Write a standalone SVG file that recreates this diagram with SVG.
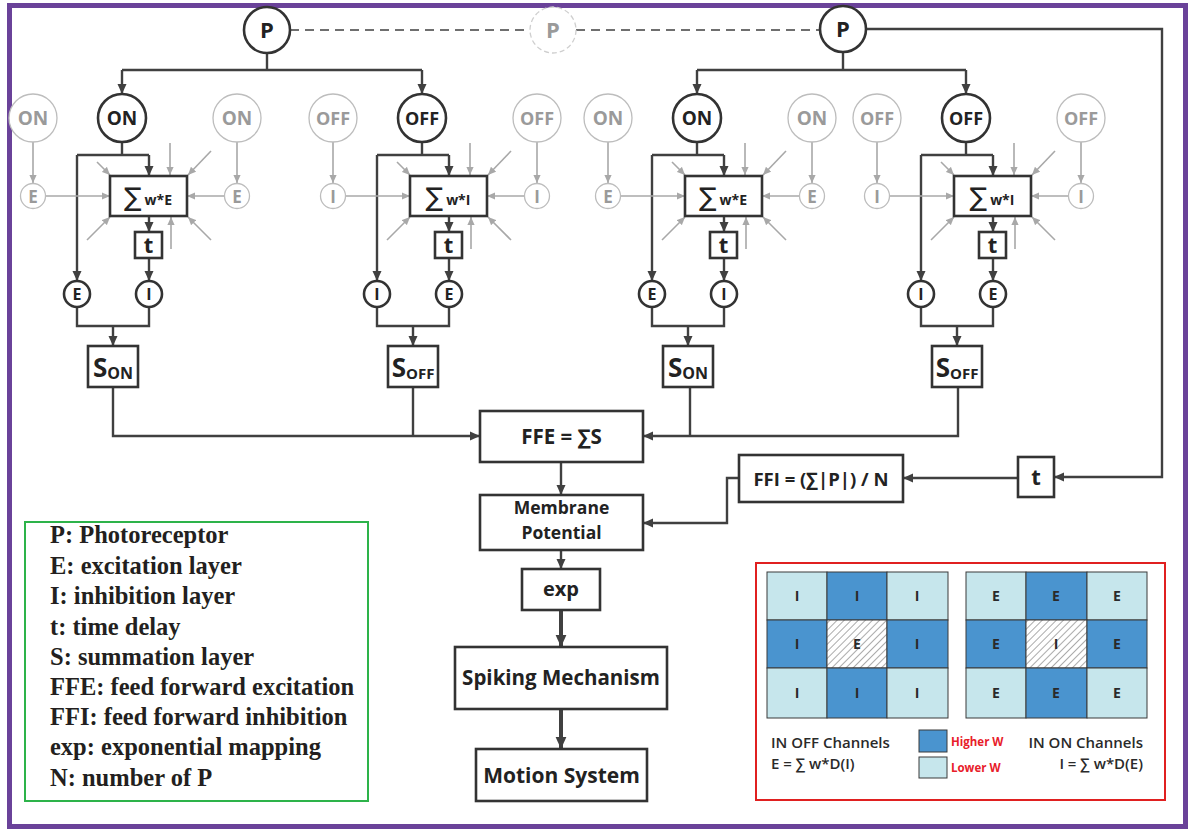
<svg xmlns="http://www.w3.org/2000/svg" width="1190" height="832" viewBox="0 0 1190 832">
<defs>
<style>
.bk{fill:#fff;stroke:#333;stroke-width:2.6}
.gc{fill:#fff;stroke:#bdbdbd;stroke-width:1.3}
.ln{fill:none;stroke:#404040;stroke-width:2.4}
.gl{fill:none;stroke:#a8a8a8;stroke-width:1.6}
.t{font-family:"Open Sans","Noto Sans",sans-serif;font-weight:700;fill:#222;text-anchor:middle}
.tg{font-family:"Open Sans","Noto Sans",sans-serif;font-weight:700;fill:#9a9a9a;text-anchor:middle}
.sig{font-family:"DejaVu Sans",sans-serif;font-weight:400}
.lg{font-family:"Liberation Serif","Times New Roman",serif;font-weight:700;fill:#231f20;font-size:24.5px}
.gt{font-family:"Open Sans","Noto Sans",sans-serif;font-weight:700;fill:#2a2a2a;text-anchor:middle;font-size:14px}
.rb{font-family:"Open Sans","Noto Sans",sans-serif;font-weight:600;font-size:15px;fill:#2a2a2a}
.rw{font-family:"Open Sans","Noto Sans",sans-serif;font-weight:700;font-size:11.5px;fill:#e8202a}
.dk{fill:#4a94cf;stroke:#3a3a3a;stroke-width:1}
.lt{fill:#c6e6ec;stroke:#3a3a3a;stroke-width:1}
</style>
<marker id="ah" viewBox="0 0 10 10" refX="10" refY="5" markerWidth="10" markerHeight="10" markerUnits="userSpaceOnUse" orient="auto"><path d="M0,0.5 L10,5 L0,9.5 z" fill="#404040"/></marker>
<marker id="ahb" viewBox="0 0 10 10" refX="10" refY="5" markerWidth="12" markerHeight="12" markerUnits="userSpaceOnUse" orient="auto"><path d="M0,0.5 L10,5 L0,9.5 z" fill="#404040"/></marker>
<marker id="ag" viewBox="0 0 10 10" refX="10" refY="5" markerWidth="8" markerHeight="8" markerUnits="userSpaceOnUse" orient="auto"><path d="M0,0.5 L10,5 L0,9.5 z" fill="#a8a8a8"/></marker>
<pattern id="hatch" patternUnits="userSpaceOnUse" width="5" height="5" patternTransform="rotate(45)"><rect width="5" height="5" fill="#fff"/><line x1="0" y1="0" x2="0" y2="5" stroke="#444" stroke-width="0.9"/></pattern>
</defs>
<rect x="0" y="0" width="1190" height="832" fill="#fff"/>
<rect x="9.5" y="5.5" width="1176" height="821" fill="none" stroke="#6a4299" stroke-width="5"/>

<g id="connectors">
<path class="ln" d="M267,53 V70 M122,70 H422"/>
<path class="ln" d="M122,70 V94" marker-end="url(#ah)"/>
<path class="ln" d="M422,70 V94" marker-end="url(#ah)"/>
<path class="ln" d="M843,52 V70 M697,70 H966"/>
<path class="ln" d="M697,70 V94" marker-end="url(#ah)"/>
<path class="ln" d="M966,70 V94" marker-end="url(#ah)"/>
<path fill="none" stroke="#404040" stroke-width="1.6" stroke-dasharray="9,6" d="M290,30 H530 M576,30 H820"/>
<path class="ln" d="M866,29 H1162 V477 H1054" marker-end="url(#ah)"/>
<path class="ln" d="M1018,478 H903" marker-end="url(#ah)"/>
<path class="ln" d="M739,478 H727 V523 H643" marker-end="url(#ah)"/>
<path class="ln" d="M113,387 V436 H480" marker-end="url(#ah)"/>
<path class="ln" d="M413,387 V436"/>
<path class="ln" d="M958,387 V436 H643" marker-end="url(#ah)"/>
<path class="ln" d="M690,387 V436"/>
<path class="ln" d="M561,462 V495" marker-end="url(#ah)"/>
<path class="ln" d="M561,550 V569" marker-end="url(#ah)"/>
<path fill="none" stroke="#404040" stroke-width="4" d="M561,610 V647" marker-end="url(#ahb)"/>
<path fill="none" stroke="#404040" stroke-width="4" d="M561,709 V749" marker-end="url(#ahb)"/>
<g id="cx1" transform="translate(122,0)">
<path class="ln" d="M0,142 V155 M-45,155 H27"/>
<path class="ln" d="M27,155 V176" marker-end="url(#ah)"/>
<path class="ln" d="M-45,155 V281" marker-end="url(#ah)"/>
<path class="ln" d="M27,216 V232" marker-end="url(#ah)"/>
<path class="ln" d="M27,258 V281" marker-end="url(#ah)"/>
<path class="ln" d="M-45,307 V326 H27 V307"/>
<path class="ln" d="M-9,326 V346" marker-end="url(#ah)"/>
<path class="gl" d="M-89,142 V183" marker-end="url(#ag)"/>
<path class="gl" d="M115,142 V183" marker-end="url(#ag)"/>
<path class="gl" d="M-76,196 H-12" marker-end="url(#ag)"/>
<path class="gl" d="M102,196 H65" marker-end="url(#ag)"/>
<path class="gl" d="M-25,162 L-12,175" marker-end="url(#ag)"/>
<path class="gl" d="M48,143 V175" marker-end="url(#ag)"/>
<path class="gl" d="M89,151 L66,175" marker-end="url(#ag)"/>
<path class="gl" d="M-35,240 L-12,217" marker-end="url(#ag)"/>
<path class="gl" d="M49,249 V217" marker-end="url(#ag)"/>
<path class="gl" d="M89,240 L66,217" marker-end="url(#ag)"/>
</g>
<use href="#cx1" transform="translate(300,0)"/>
<use href="#cx1" transform="translate(575,0)"/>
<use href="#cx1" transform="translate(844,0)"/>
</g>

<g id="p1"><circle class="bk" cx="267" cy="30" r="23"/><text class="t" x="267" y="38" font-size="22">P</text></g>
<g id="p2"><circle fill="#fff" stroke="#cfcfcf" stroke-width="1.3" stroke-dasharray="5,3" cx="553" cy="30" r="23"/><text class="tg" x="553" y="38" font-size="22" fill="#aaa">P</text></g>
<g id="p3"><circle class="bk" cx="843" cy="29" r="23"/><text class="t" x="843" y="37" font-size="22">P</text></g>

<g id="col1" transform="translate(122,0)">
<g id="on1"><circle class="bk" cx="0" cy="118" r="24"/><text class="t" x="0" y="125" font-size="19">ON</text></g>
<g id="on1-gl"><circle class="gc" cx="-89" cy="118" r="24"/><text class="tg" x="-89" y="125" font-size="19">ON</text></g>
<g id="on1-gr"><circle class="gc" cx="115" cy="118" r="24"/><text class="tg" x="115" y="125" font-size="19">ON</text></g>
<g id="e1-gl"><circle class="gc" cx="-89" cy="196" r="12.5"/><text class="tg" x="-89" y="202.5" font-size="17">E</text></g>
<g id="e1-gr"><circle class="gc" cx="115" cy="196" r="12.5"/><text class="tg" x="115" y="202.5" font-size="17">E</text></g>
<g id="sum1"><rect class="bk" x="-12" y="176" width="77" height="40"/><text class="t" x="26" y="206"><tspan class="sig" font-size="26">∑</tspan><tspan font-size="14" dx="3" dy="-1">w*E</tspan></text></g>
<g id="t1"><rect class="bk" x="13" y="232" width="27" height="26"/><text class="t" x="26.5" y="253" font-size="22">t</text></g>
<g id="e1"><circle class="bk" cx="-45" cy="294" r="13"/><text class="t" x="-45" y="300" font-size="16">E</text></g>
<g id="i1"><circle class="bk" cx="27" cy="294" r="13"/><text class="t" x="27" y="300" font-size="16">I</text></g>
<g id="s1"><rect class="bk" x="-34" y="346" width="50" height="41"/><text class="t" x="-9" y="377"><tspan font-size="26">S</tspan><tspan font-size="16" dy="2">ON</tspan></text></g>
</g>

<g id="col2" transform="translate(422,0)">
<g id="off2"><circle class="bk" cx="0" cy="118" r="24"/><text class="t" x="0" y="125" font-size="18">OFF</text></g>
<g id="off2-gl"><circle class="gc" cx="-89" cy="118" r="24"/><text class="tg" x="-89" y="125" font-size="18">OFF</text></g>
<g id="off2-gr"><circle class="gc" cx="115" cy="118" r="24"/><text class="tg" x="115" y="125" font-size="18">OFF</text></g>
<g id="i2-gl"><circle class="gc" cx="-89" cy="196" r="12.5"/><text class="tg" x="-89" y="202.5" font-size="17">I</text></g>
<g id="i2-gr"><circle class="gc" cx="115" cy="196" r="12.5"/><text class="tg" x="115" y="202.5" font-size="17">I</text></g>
<g id="sum2"><rect class="bk" x="-12" y="176" width="77" height="40"/><text class="t" x="26" y="206"><tspan class="sig" font-size="26">∑</tspan><tspan font-size="14" dx="3" dy="-1">w*I</tspan></text></g>
<g id="t2"><rect class="bk" x="13" y="232" width="27" height="26"/><text class="t" x="26.5" y="253" font-size="22">t</text></g>
<g id="i2"><circle class="bk" cx="-45" cy="294" r="13"/><text class="t" x="-45" y="300" font-size="16">I</text></g>
<g id="e2"><circle class="bk" cx="27" cy="294" r="13"/><text class="t" x="27" y="300" font-size="16">E</text></g>
<g id="s2"><rect class="bk" x="-34" y="346" width="50" height="41"/><text class="t" x="-9" y="377"><tspan font-size="26">S</tspan><tspan font-size="15" dy="2">OFF</tspan></text></g>
</g>

<g id="col3" transform="translate(697,0)">
<g id="on3"><circle class="bk" cx="0" cy="118" r="24"/><text class="t" x="0" y="125" font-size="19">ON</text></g>
<g id="on3-gl"><circle class="gc" cx="-89" cy="118" r="24"/><text class="tg" x="-89" y="125" font-size="19">ON</text></g>
<g id="on3-gr"><circle class="gc" cx="115" cy="118" r="24"/><text class="tg" x="115" y="125" font-size="19">ON</text></g>
<g id="e3-gl"><circle class="gc" cx="-89" cy="196" r="12.5"/><text class="tg" x="-89" y="202.5" font-size="17">E</text></g>
<g id="e3-gr"><circle class="gc" cx="115" cy="196" r="12.5"/><text class="tg" x="115" y="202.5" font-size="17">E</text></g>
<g id="sum3"><rect class="bk" x="-12" y="176" width="77" height="40"/><text class="t" x="26" y="206"><tspan class="sig" font-size="26">∑</tspan><tspan font-size="14" dx="3" dy="-1">w*E</tspan></text></g>
<g id="t3"><rect class="bk" x="13" y="232" width="27" height="26"/><text class="t" x="26.5" y="253" font-size="22">t</text></g>
<g id="e3"><circle class="bk" cx="-45" cy="294" r="13"/><text class="t" x="-45" y="300" font-size="16">E</text></g>
<g id="i3"><circle class="bk" cx="27" cy="294" r="13"/><text class="t" x="27" y="300" font-size="16">I</text></g>
<g id="s3"><rect class="bk" x="-34" y="346" width="50" height="41"/><text class="t" x="-9" y="377"><tspan font-size="26">S</tspan><tspan font-size="16" dy="2">ON</tspan></text></g>
</g>

<g id="col4" transform="translate(966,0)">
<g id="off4"><circle class="bk" cx="0" cy="118" r="24"/><text class="t" x="0" y="125" font-size="18">OFF</text></g>
<g id="off4-gl"><circle class="gc" cx="-89" cy="118" r="24"/><text class="tg" x="-89" y="125" font-size="18">OFF</text></g>
<g id="off4-gr"><circle class="gc" cx="115" cy="118" r="24"/><text class="tg" x="115" y="125" font-size="18">OFF</text></g>
<g id="i4-gl"><circle class="gc" cx="-89" cy="196" r="12.5"/><text class="tg" x="-89" y="202.5" font-size="17">I</text></g>
<g id="i4-gr"><circle class="gc" cx="115" cy="196" r="12.5"/><text class="tg" x="115" y="202.5" font-size="17">I</text></g>
<g id="sum4"><rect class="bk" x="-12" y="176" width="77" height="40"/><text class="t" x="26" y="206"><tspan class="sig" font-size="26">∑</tspan><tspan font-size="14" dx="3" dy="-1">w*I</tspan></text></g>
<g id="t4"><rect class="bk" x="13" y="232" width="27" height="26"/><text class="t" x="26.5" y="253" font-size="22">t</text></g>
<g id="i4"><circle class="bk" cx="-45" cy="294" r="13"/><text class="t" x="-45" y="300" font-size="16">I</text></g>
<g id="e4"><circle class="bk" cx="27" cy="294" r="13"/><text class="t" x="27" y="300" font-size="16">E</text></g>
<g id="s4"><rect class="bk" x="-34" y="346" width="50" height="41"/><text class="t" x="-9" y="377"><tspan font-size="26">S</tspan><tspan font-size="15" dy="2">OFF</tspan></text></g>
</g>

<g id="ffe"><rect class="bk" x="480" y="411" width="163" height="51"/><text class="t" x="561.5" y="444" font-size="20.5">FFE = ∑S</text></g>
<g id="ffi"><rect class="bk" x="739" y="455" width="164" height="47"/><text class="t" x="821" y="485.5" font-size="18.5">FFI = (∑|P|) / N</text></g>
<g id="tdelay"><rect class="bk" x="1018" y="457" width="36" height="40"/><text class="t" x="1036" y="485" font-size="22">t</text></g>
<g id="membrane"><rect class="bk" x="480" y="495" width="163" height="55"/><text class="t" x="561.5" y="514" font-size="17.5">Membrane</text><text class="t" x="561.5" y="539" font-size="17.5">Potential</text></g>
<g id="exp"><rect class="bk" x="522" y="569" width="78" height="41"/><text class="t" x="561" y="596" font-size="20">exp</text></g>
<g id="spiking"><rect class="bk" x="455" y="647" width="212" height="62"/><text class="t" x="561" y="685" font-size="20.5">Spiking Mechanism</text></g>
<g id="motion"><rect class="bk" x="476" y="749" width="171" height="52"/><text class="t" x="561.5" y="782.5" font-size="21">Motion System</text></g>

<g id="legend">
<rect x="25" y="522" width="343" height="279" fill="#fff" stroke="#2db34a" stroke-width="2"/>
<text class="lg" x="50" y="543">P: Photoreceptor</text>
<text class="lg" x="50" y="574">E: excitation layer</text>
<text class="lg" x="50" y="604">I: inhibition layer</text>
<text class="lg" x="50" y="635">t: time delay</text>
<text class="lg" x="50" y="665">S: summation layer</text>
<text class="lg" x="50" y="695">FFE: feed forward excitation</text>
<text class="lg" x="50" y="725">FFI: feed forward inhibition</text>
<text class="lg" x="50" y="755">exp: exponential mapping</text>
<text class="lg" x="50" y="786">N: number of P</text>
</g>

<g id="weights">
<rect x="756" y="563" width="409" height="237" fill="#fff" stroke="#e02020" stroke-width="2"/>
<g id="grid-off">
<rect class="lt" x="767" y="572" width="60" height="48"/><rect class="dk" x="827" y="572" width="60" height="48"/><rect class="lt" x="887" y="572" width="61" height="48"/>
<rect class="dk" x="767" y="620" width="60" height="48"/><rect x="827" y="620" width="60" height="48" fill="url(#hatch)" stroke="#3a3a3a" stroke-width="1"/><rect class="dk" x="887" y="620" width="61" height="48"/>
<rect class="lt" x="767" y="668" width="60" height="50"/><rect class="dk" x="827" y="668" width="60" height="50"/><rect class="lt" x="887" y="668" width="61" height="50"/>
<text class="gt" x="797" y="601">I</text><text class="gt" x="857" y="601">I</text><text class="gt" x="917" y="601">I</text>
<text class="gt" x="797" y="649">I</text><text class="gt" x="857" y="649">E</text><text class="gt" x="917" y="649">I</text>
<text class="gt" x="797" y="698">I</text><text class="gt" x="857" y="698">I</text><text class="gt" x="917" y="698">I</text>
</g>
<g id="grid-on">
<rect class="lt" x="966" y="572" width="60" height="48"/><rect class="dk" x="1026" y="572" width="61" height="48"/><rect class="lt" x="1087" y="572" width="60" height="48"/>
<rect class="dk" x="966" y="620" width="60" height="48"/><rect x="1026" y="620" width="61" height="48" fill="url(#hatch)" stroke="#3a3a3a" stroke-width="1"/><rect class="dk" x="1087" y="620" width="60" height="48"/>
<rect class="lt" x="966" y="668" width="60" height="50"/><rect class="dk" x="1026" y="668" width="61" height="50"/><rect class="lt" x="1087" y="668" width="60" height="50"/>
<text class="gt" x="996" y="601">E</text><text class="gt" x="1056" y="601">E</text><text class="gt" x="1117" y="601">E</text>
<text class="gt" x="996" y="649">E</text><text class="gt" x="1056" y="649">I</text><text class="gt" x="1117" y="649">E</text>
<text class="gt" x="996" y="698">E</text><text class="gt" x="1056" y="698">E</text><text class="gt" x="1117" y="698">E</text>
</g>
<rect class="dk" x="919" y="730" width="28" height="22"/>
<rect class="lt" x="919" y="757" width="28" height="21"/>
<text class="rw" x="951" y="746">Higher W</text>
<text class="rw" x="951" y="772">Lower W</text>
<text class="rb" x="771" y="748">IN OFF Channels</text>
<text class="rb" x="771" y="769">E = ∑ w*D(I)</text>
<text class="rb" x="1143" y="748" text-anchor="end">IN ON Channels</text>
<text class="rb" x="1143" y="769" text-anchor="end">I = ∑ w*D(E)</text>
</g>
</svg>
